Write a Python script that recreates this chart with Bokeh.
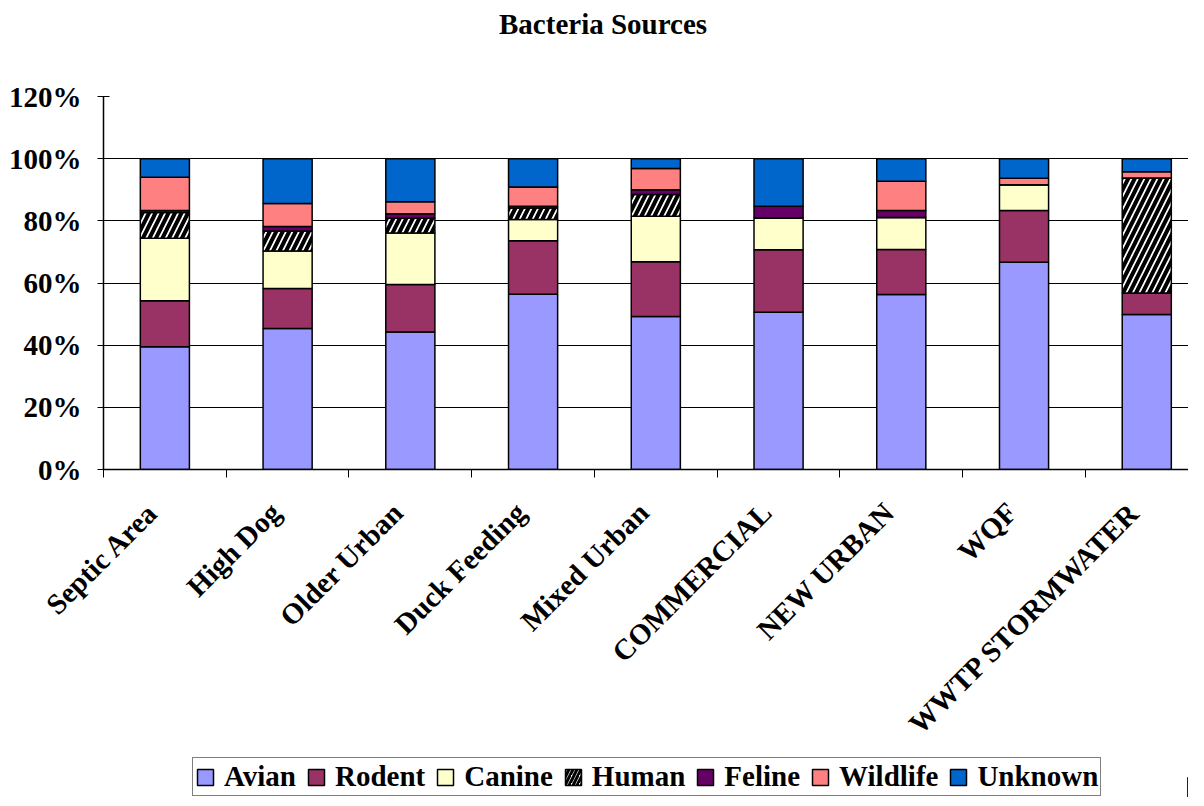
from bokeh.plotting import figure
from bokeh.models import (ColumnDataSource, Range1d, FixedTicker, NumeralTickFormatter,
                          Legend, LegendItem)
from bokeh.layouts import column
from bokeh.core.properties import value
from bokeh.embed import file_html
from bokeh.resources import INLINE
import math

categories = ["Septic Area", "High Dog", "Older Urban", "Duck Feeding", "Mixed Urban",
              "COMMERCIAL", "NEW URBAN", "WQF", "WWTP STORMWATER"]
series = ["Avian", "Rodent", "Canine", "Human", "Feline", "Wildlife", "Unknown"]

avian    = [39.5, 45.4, 44.2, 56.4, 49.2, 50.6, 56.3, 66.7, 49.9]
rodent   = [14.8, 12.8, 15.3, 17.2, 17.6, 20.1, 14.5, 16.6, 6.9]
canine   = [20.1, 12.1, 16.6, 6.8, 14.7, 10.2, 10.3, 8.3, 0.0]
human    = [8.3, 6.4, 4.7, 3.7, 7.0, 0.0, 0.0, 0.0, 37.0]
feline   = [0.6, 1.5, 1.5, 0.6, 1.5, 3.8, 2.2, 0.0, 0.0]
wildlife = [10.7, 7.4, 3.8, 6.2, 6.8, 0.0, 9.4, 2.1, 2.0]
unknown  = [6.0, 14.4, 13.9, 9.1, 3.2, 15.3, 7.3, 6.3, 4.2]

y_ticks = [0, 0.2, 0.4, 0.6, 0.8, 1.0, 1.2]
title_text = "Bacteria Sources"

colors = ["#9999FF", "#993366", "#FFFFCC", "#FFFFFF", "#660066", "#FF8080", "#0066CC"]
hatches = [" ", " ", " ", "/", " ", " ", " "]

values = [avian, rodent, canine, human, feline, wildlife, unknown]
x_centers = [i + 0.5 for i in range(len(categories))]
data = {"x": x_centers}
for name, vals in zip(series, values):
    data[name] = [v / 100.0 for v in vals]
source = ColumnDataSource(data)

FONT = "Liberation Serif"
FS = "29px"
W = 1188
LEFT = 103

x_range = Range1d(0, 8.84)

# ---------- title strip ----------
tf = figure(width=W, height=60, output_backend="svg", toolbar_location=None,
            x_range=x_range, y_range=Range1d(0, 60),
            min_border_left=LEFT, min_border_right=0, min_border_top=0, min_border_bottom=0)
tf.axis.visible = False
tf.grid.visible = False
tf.outline_line_color = None
tf.text(x=[4.07], y=[37], text=[title_text], text_align="center",
        text_baseline="alphabetic", text_font=value(FONT), text_font_style="bold",
        text_font_size=FS, text_color="black")

# ---------- main chart ----------
p = figure(width=W, height=697, output_backend="svg", toolbar_location=None,
           x_range=x_range, y_range=Range1d(0, 1.2),
           min_border_left=LEFT, min_border_right=0, min_border_top=36,
           min_border_bottom=288)
p.outline_line_color = None
p.background_fill_color = "white"

renderers = p.vbar_stack(series, x="x", width=0.4, source=source,
                         fill_color=colors, line_color="black", line_width=1.5,
                         hatch_pattern=hatches, hatch_color="black",
                         hatch_scale=13, hatch_weight=4)

p.yaxis.ticker = FixedTicker(ticks=y_ticks)
p.yaxis.formatter = NumeralTickFormatter(format="0%")
p.yaxis.major_label_text_font = FONT
p.yaxis.major_label_text_font_style = "bold"
p.yaxis.major_label_text_font_size = FS
p.yaxis.major_label_text_color = "black"
p.yaxis.axis_line_color = "black"
p.yaxis.axis_line_width = 1.5
p.yaxis.major_tick_in = 6
p.yaxis.major_tick_out = 6
p.yaxis.major_tick_line_color = "black"
p.yaxis.minor_tick_line_color = None
p.yaxis.major_label_standoff = 16

label_pos = [x - 0.1 for x in x_centers]
p.xaxis.ticker = FixedTicker(ticks=label_pos, minor_ticks=list(range(len(categories) + 1)))
p.xaxis.major_label_overrides = {x: c for x, c in zip(label_pos, categories)}
p.xaxis.major_label_orientation = math.pi / 4
p.xaxis.major_label_text_font = FONT
p.xaxis.major_label_text_font_style = "bold"
p.xaxis.major_label_text_font_size = FS
p.xaxis.major_label_text_color = "black"
p.xaxis.major_tick_line_color = None
p.xaxis.minor_tick_line_color = "black"
p.xaxis.minor_tick_in = 0
p.xaxis.minor_tick_out = 8
p.xaxis.axis_line_color = "black"
p.xaxis.axis_line_width = 1.5
p.xaxis.major_label_standoff = 30

p.xgrid.grid_line_color = None
p.ygrid.ticker = FixedTicker(ticks=y_ticks[1:])
p.ygrid.grid_line_color = "black"
p.ygrid.grid_line_width = 1

# ---------- legend strip ----------
lg = figure(width=W, height=40, output_backend="svg", toolbar_location=None,
            x_range=Range1d(0, 1), y_range=Range1d(0, 1),
            min_border_left=LEFT, min_border_right=0, min_border_top=0, min_border_bottom=0)
lg.axis.visible = False
lg.grid.visible = False
lg.outline_line_color = None
items = []
for name, c, h in zip(series, colors, hatches):
    r = lg.vbar(x=[5.0], top=[0.5], bottom=[0.0], width=0.1, fill_color=c,
                line_color="black", line_width=1.5,
                hatch_pattern=h, hatch_color="black", hatch_scale=8, hatch_weight=3)
    items.append(LegendItem(label=name, renderers=[r]))
legend = Legend(items=items, orientation="horizontal", location=(89, 1),
                label_text_font=FONT, label_text_font_style="bold",
                label_text_font_size=FS, label_text_color="black",
                glyph_width=20, glyph_height=20, spacing=10, padding=2, margin=0,
                label_standoff=9, border_line_color="black", border_line_width=1.5,
                label_height=30, background_fill_color="white")
lg.add_layout(legend)

layout = column(tf, p, lg, spacing=0)
open("out.html", "w").write(file_html(layout, INLINE))
